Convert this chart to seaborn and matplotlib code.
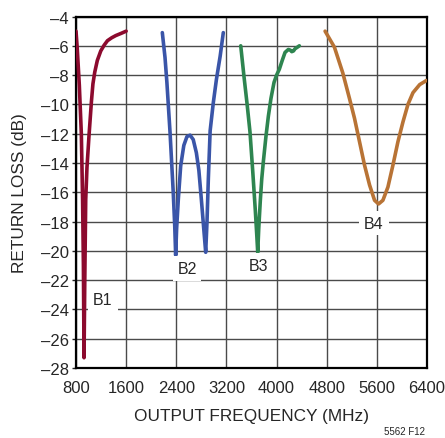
import matplotlib
matplotlib.use("Agg")
import matplotlib.pyplot as plt
import seaborn as sns
import pandas as pd

# ---- data ----
b1_f = [800, 820, 853, 885, 905, 918, 928, 940, 955, 975, 1008, 1046, 1070, 1099, 1140,
        1195, 1250, 1302, 1370, 1435, 1520, 1600]
b1_v = [-5.0, -6.2, -8.7, -12.0, -16.5, -21.0, -27.3, -22.0, -16.5, -14.3, -12.1, -9.8,
        -8.6, -7.8, -7.0, -6.35, -5.95, -5.65, -5.45, -5.3, -5.15, -5.0]

b2_f = [2177, 2220, 2250, 2300, 2350, 2375, 2390, 2405, 2432, 2470, 2520, 2570, 2620, 2670,
        2720, 2760, 2800, 2840, 2869, 2890, 2911, 2940, 2990, 3040, 3100, 3150]
b2_v = [-5.1, -6.8, -8.5, -11.9, -15.9, -18.3, -20.3, -18.5, -16.5, -14.2, -12.8, -12.2,
        -12.1, -12.4, -13.3, -14.5, -16.5, -18.6, -20.1, -18.0, -15.1, -11.8, -9.9, -8.3,
        -6.7, -5.1]

b3_f = [3428, 3480, 3530, 3576, 3620, 3660, 3685, 3699, 3715, 3740, 3763, 3789, 3830, 3869,
        3910, 3959, 4000, 4044, 4090, 4135, 4188, 4220, 4242, 4270, 4294, 4330, 4363]
b3_v = [-6.0, -8.1, -10.0, -11.9, -14.6, -17.2, -19.0, -20.1, -18.5, -16.6, -15.1, -13.9,
        -12.2, -10.8, -9.6, -8.5, -8.0, -7.6, -7.0, -6.45, -6.25, -6.3, -6.4, -6.35, -6.2,
        -6.1, -6.0]

b4_f = [4774, 4923, 5056, 5163, 5243, 5323, 5403, 5483, 5563, 5627, 5696, 5776, 5856, 5936,
        6016, 6096, 6176, 6283, 6390]
b4_v = [-5.0, -6.1, -7.85, -9.6, -10.95, -12.55, -14.15, -15.5, -16.55, -16.8, -16.55,
        -15.65, -14.15, -12.55, -11.2, -10.0, -9.2, -8.65, -8.37]

bands = ["B1", "B2", "B3", "B4"]
band_colors = ["#8C0A2E", "#3A55A8", "#2E8550", "#B87335"]
label_pos_f = [1230, 2571, 3704, 5554]
label_pos_v = [-23.3, -21.2, -21.0, -18.1]

x_ticks = [800, 1600, 2400, 3200, 4000, 4800, 5600, 6400]
y_ticks = [-28, -26, -24, -22, -20, -18, -16, -14, -12, -10, -8, -6, -4]

# ---- style ----
sns.set_style("white")
plt.rcParams["font.family"] = ["Liberation Sans", "DejaVu Sans"]

fig = plt.figure(figsize=(4.45, 4.39), dpi=100)
ax = fig.add_axes([0.1708, 0.1595, 0.7888, 0.8006])

frames = []
for name, f, v in zip(bands, [b1_f, b2_f, b3_f, b4_f], [b1_v, b2_v, b3_v, b4_v]):
    frames.append(pd.DataFrame({"freq": f, "rl": v, "band": name}))
df = pd.concat(frames, ignore_index=True)

sns.lineplot(data=df, x="freq", y="rl", hue="band", palette=dict(zip(bands, band_colors)),
             sort=False, estimator=None, linewidth=2.6, legend=False, ax=ax, zorder=3)
for ln in ax.lines:
    ln.set_solid_joinstyle("round")
    ln.set_solid_capstyle("round")

ax.set_xlim(800, 6400)
ax.set_ylim(-28, -4)
ax.set_xticks(x_ticks)
ax.set_yticks(y_ticks)
ax.set_xticklabels([str(t) for t in x_ticks], fontsize=12)
ax.set_yticklabels([str(t).replace("-", "\u2013") for t in y_ticks], fontsize=12)
ax.grid(True, color="#4a4a4a", linewidth=1.0, zorder=1)
ax.set_axisbelow(True)
for s in ax.spines.values():
    s.set_color("black")
    s.set_linewidth(1.6)
ax.tick_params(axis="y", length=3, width=1, pad=2, left=True)
ax.tick_params(axis="x", length=0, pad=9)

ax.set_xlabel("OUTPUT FREQUENCY (MHz)", fontsize=12.4, labelpad=9)
ax.set_ylabel("RETURN LOSS (dB)", fontsize=12.4)
ax.yaxis.set_label_coords(-0.14, 0.5)

for name, fx, fy in zip(bands, label_pos_f, label_pos_v):
    ax.text(fx, fy, name, fontsize=11.5, ha="center", va="center", zorder=4,
            bbox=dict(boxstyle="square,pad=0.3", fc="white", ec="none"))

fig.text(0.955, 0.016, "5562 F12", fontsize=7, ha="right", va="center")

fig.savefig("out.png", dpi=100)
